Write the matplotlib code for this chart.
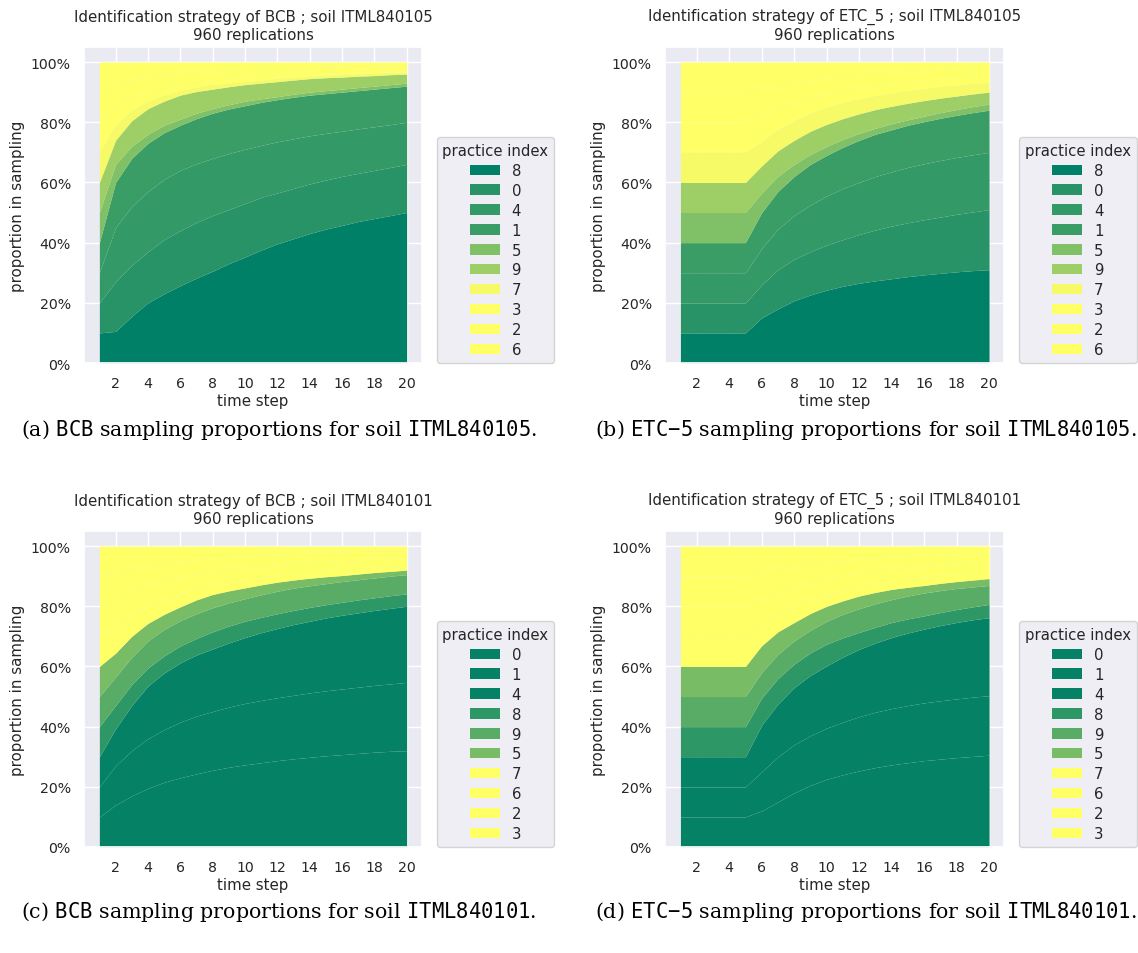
import numpy as np
import matplotlib
matplotlib.use("Agg")
import matplotlib.pyplot as plt
import seaborn as sns
from matplotlib.ticker import PercentFormatter

sns.set_theme(style="darkgrid")
plt.rcParams.update({
    "font.family": ["DejaVu Sans"],
    "font.size": 10.8,
    "axes.titlesize": 10.8,
    "axes.labelsize": 10.8,
    "xtick.labelsize": 10.2,
    "ytick.labelsize": 10.2,
    "legend.fontsize": 10.7,
    "legend.title_fontsize": 10.7,
    "mathtext.fontset": "dejavuserif",
})

steps = list(range(1, 21))

# practice order (bottom to top of stack) for each soil
order_105 = ["8", "0", "4", "1", "5", "9", "7", "3", "2", "6"]
order_101 = ["0", "1", "4", "8", "9", "5", "7", "6", "2", "3"]

# colour tone (summer colormap) for each practice, same order as above
tone_105 = [0.0, 0.16, 0.2, 0.23, 0.5, 0.62, 0.96, 1.0, 1.0, 1.0]
tone_101 = [0.02, 0.02, 0.02, 0.18, 0.35, 0.47, 1.0, 1.0, 1.0, 1.0]

# cumulative top edge (%) of each layer, last layer always reaches 100
bcb_105_tops = [
    [10, 10.5, 15.5, 20, 23, 25.7, 28.2, 30.5, 33, 35.2, 37.5, 39.6, 41.3, 43, 44.5, 45.7, 47, 48, 49, 50],
    [20, 27, 32.5, 37, 41, 44, 46.7, 49, 51, 53, 55, 56.5, 58, 59.5, 60.8, 62, 63, 64, 65, 66],
    [30, 45, 52, 57, 61, 64, 66.2, 68, 69.6, 71, 72.3, 73.5, 74.5, 75.5, 76.3, 77, 77.8, 78.5, 79.2, 80],
    [40, 60, 68, 73, 76.5, 79, 81.2, 83, 84.4, 85.5, 86.6, 87.5, 88.3, 89, 89.5, 90, 90.5, 91, 91.5, 92],
    [50, 66, 72, 76, 79, 81, 83, 84.5, 85.8, 87, 87.8, 88.5, 89.3, 90, 90.5, 91, 91.5, 92, 92.5, 93],
    [60, 74, 80.5, 84.5, 87, 89, 90.2, 91, 91.8, 92.5, 93, 93.5, 94, 94.5, 94.8, 95, 95.3, 95.5, 95.8, 96],
    [70, 79, 84, 87, 89, 90.5, 91.6, 92.5, 93, 93.5, 94, 94.5, 94.9, 95.2, 95.5, 95.8, 96, 96.2, 96.4, 96.5],
    [80, 85, 88, 90, 91.5, 92.5, 93.3, 94, 94.5, 95, 95.4, 95.8, 96.1, 96.4, 96.6, 96.8, 97, 97.2, 97.3, 97.5],
    [90, 92, 94, 95, 95.8, 96.3, 96.7, 97, 97.3, 97.5, 97.7, 97.9, 98, 98.2, 98.3, 98.4, 98.5, 98.6, 98.7, 98.8],
]

etc_105_tops = [
    [10, 10, 10, 10, 10, 15, 18, 20.7, 22.6, 24.2, 25.5, 26.5, 27.3, 28, 28.7, 29.3, 29.8, 30.3, 30.7, 31],
    [20, 20, 20, 20, 20, 26, 31, 34.5, 37, 39.2, 41, 42.7, 44.2, 45.5, 46.6, 47.6, 48.5, 49.4, 50.2, 51],
    [30, 30, 30, 30, 30, 38, 44.5, 49, 52.5, 55.5, 58, 60, 62, 63.5, 65, 66.2, 67.3, 68.3, 69.2, 70],
    [40, 40, 40, 40, 40, 50, 57, 62, 66, 69, 71.7, 74, 76, 77.5, 79, 80.2, 81.3, 82.3, 83.2, 84],
    [50, 50, 50, 50, 50, 56.5, 62, 66, 69.3, 72, 74.3, 76.3, 78, 79.5, 80.8, 82, 83.2, 84.2, 85.2, 86],
    [60, 60, 60, 60, 60, 65.5, 70.5, 74, 77, 79.3, 81.2, 82.8, 84.2, 85.3, 86.3, 87.2, 88, 88.7, 89.4, 90],
    [70, 70, 70, 70, 70, 73.5, 77.5, 80.5, 83, 85, 86.5, 87.8, 88.8, 89.7, 90.5, 91.2, 91.8, 92.3, 92.8, 93.2],
    [80, 80, 80, 80, 80, 82, 84.5, 86.5, 88, 89.3, 90.4, 91.3, 92, 92.7, 93.3, 93.8, 94.3, 94.7, 95.1, 95.5],
    [90, 90, 90, 90, 90, 91, 92.3, 93.3, 94.1, 94.8, 95.4, 95.9, 96.3, 96.7, 97, 97.3, 97.6, 97.8, 98, 98.2],
]

bcb_101_tops = [
    [10, 14, 17, 19.5, 21.5, 23, 24.3, 25.5, 26.5, 27.3, 28, 28.7, 29.3, 29.8, 30.3, 30.7, 31.1, 31.5, 31.8, 32],
    [20, 27, 32, 36, 39, 41.5, 43.5, 45, 46.5, 47.7, 48.7, 49.6, 50.4, 51.2, 51.9, 52.5, 53.1, 53.7, 54.2, 54.7],
    [30, 39.3, 47, 53.5, 57.8, 61.2, 63.8, 65.8, 67.8, 69.6, 71.2, 72.6, 73.9, 75, 76.1, 77, 77.8, 78.6, 79.3, 80],
    [40, 47, 54, 59.5, 63.5, 66.8, 69.3, 71.5, 73.4, 75, 76.3, 77.5, 78.6, 79.6, 80.5, 81.3, 82.1, 82.8, 83.5, 84.1],
    [50, 56.5, 63, 68.5, 72.3, 75.2, 77.5, 79.5, 81.1, 82.5, 83.8, 85, 86, 86.8, 87.5, 88.2, 88.8, 89.4, 90, 90.5],
    [60, 64.4, 70, 74.3, 77.3, 79.8, 82.1, 83.9, 85.1, 86.1, 87.1, 88, 88.7, 89.3, 89.8, 90.2, 90.7, 91.2, 91.6, 92],
    [70, 73, 77, 80, 82.5, 84.3, 85.8, 87, 88, 88.8, 89.6, 90.3, 90.8, 91.3, 91.8, 92.2, 92.6, 93, 93.3, 93.6],
    [80, 82, 85, 87, 88.5, 89.7, 90.7, 91.5, 92.2, 92.8, 93.3, 93.8, 94.2, 94.6, 94.9, 95.2, 95.5, 95.8, 96, 96.2],
    [90, 91, 92.5, 93.5, 94.3, 95, 95.5, 96, 96.4, 96.7, 97, 97.3, 97.5, 97.7, 97.9, 98, 98.2, 98.3, 98.4, 98.5],
]

etc_101_tops = [
    [10, 10, 10, 10, 10, 12, 15, 18, 20.5, 22.5, 24, 25.3, 26.4, 27.3, 28, 28.7, 29.2, 29.7, 30.1, 30.5],
    [20, 20, 20, 20, 20, 25, 30, 34, 37, 39.5, 41.5, 43.3, 44.8, 46, 47, 47.9, 48.6, 49.2, 49.8, 50.3],
    [30, 30, 30, 30, 30, 40.5, 47.5, 53, 57, 60.2, 63.1, 65.7, 67.8, 69.6, 71.1, 72.4, 73.6, 74.6, 75.5, 76.2],
    [40, 40, 40, 40, 40, 49.5, 56, 60.8, 64.5, 67.4, 69.5, 71.3, 73, 74.6, 75.8, 76.8, 77.9, 78.9, 79.8, 80.6],
    [50, 50, 50, 50, 50, 58, 64, 68.5, 72, 75, 77.3, 79.2, 80.8, 82.2, 83.4, 84.4, 85.2, 85.9, 86.4, 86.9],
    [60, 60, 60, 60, 60, 66.9, 71.5, 74.6, 77.6, 80, 81.8, 83.4, 84.6, 85.6, 86.3, 86.9, 87.6, 88.2, 88.7, 89.2],
    [70, 70, 70, 70, 70, 74, 77.5, 80, 82, 83.8, 85.2, 86.4, 87.4, 88.3, 89, 89.7, 90.3, 90.8, 91.3, 91.8],
    [80, 80, 80, 80, 80, 82.5, 85, 86.8, 88.2, 89.4, 90.4, 91.2, 91.9, 92.5, 93, 93.5, 93.9, 94.3, 94.6, 94.9],
    [90, 90, 90, 90, 90, 91.3, 92.5, 93.4, 94.1, 94.7, 95.2, 95.7, 96.1, 96.4, 96.7, 97, 97.2, 97.4, 97.6, 97.8],
]

panels = [
    ("BCB", "ITML840105", order_105, tone_105, bcb_105_tops,
     r"(a) $\mathtt{BCB}$ sampling proportions for soil $\mathtt{ITML840105}$."),
    ("ETC_5", "ITML840105", order_105, tone_105, etc_105_tops,
     r"(b) $\mathtt{ETC{-}5}$ sampling proportions for soil $\mathtt{ITML840105}$."),
    ("BCB", "ITML840101", order_101, tone_101, bcb_101_tops,
     r"(c) $\mathtt{BCB}$ sampling proportions for soil $\mathtt{ITML840101}$."),
    ("ETC_5", "ITML840101", order_101, tone_101, etc_101_tops,
     r"(d) $\mathtt{ETC{-}5}$ sampling proportions for soil $\mathtt{ITML840101}$."),
]

W, H = 1138, 954
fig = plt.figure(figsize=(W / 100, H / 100), dpi=100)
cmap = plt.get_cmap("summer")

# axes boxes in pixels: left, top, right, bottom
boxes = [(84, 48, 422, 364), (665, 48, 1004.5, 364), (84, 532, 422, 848), (665, 532, 1004.5, 848)]
caption_pos = [(279, 430), (865.5, 430), (279, 912), (865.5, 912)]

for (strategy, soil, order, tone, tops, caption), box, cpos in zip(panels, boxes, caption_pos):
    l, t, r, b = box
    ax = fig.add_axes([l / W, 1 - b / H, (r - l) / W, (b - t) / H])
    edges = np.vstack([np.zeros(len(steps)), np.array(tops), np.full(len(steps), 100.0)]) / 100
    shares = np.diff(edges, axis=0)
    colors = [cmap(v) for v in tone]
    ax.stackplot(steps, shares, labels=order, colors=colors, linewidth=0)
    ax.set_xticks(range(2, 21, 2))
    ax.set_yticks(np.arange(0, 1.01, 0.2))
    ax.yaxis.set_major_formatter(PercentFormatter(1.0, decimals=0))
    ax.set_xlabel("time step", labelpad=2)
    ax.set_ylabel("proportion in sampling")
    ax.set_title(f"Identification strategy of {strategy} ; soil {soil}\n960 replications")
    ax.legend(title="practice index", loc="lower left", bbox_to_anchor=(1.043, 0),
              borderaxespad=0, labelspacing=0.33)
    fig.text(cpos[0] / W, 1 - cpos[1] / H, caption, ha="center", va="center",
             family="DejaVu Serif", fontsize=14.8, color="black")

fig.savefig("out.png", dpi=100)
